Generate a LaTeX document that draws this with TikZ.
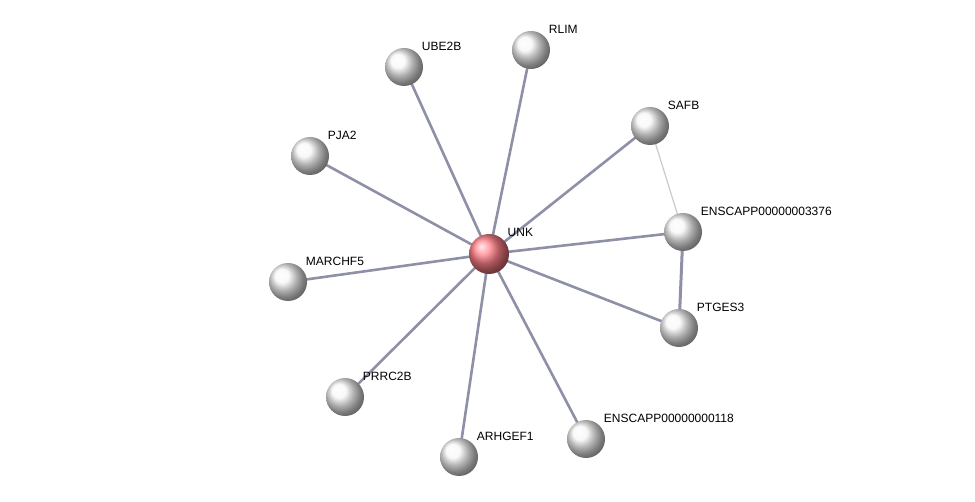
\documentclass[tikz,border=0pt]{standalone}
\usepackage{fontspec}
\setmainfont{Liberation Sans}
\usetikzlibrary{backgrounds}
\definecolor{edg}{HTML}{8D90A6}
\definecolor{weak}{HTML}{C9C9CE}
\definecolor{hub}{HTML}{FF8088}

\begin{document}
\begin{tikzpicture}[x=1pt, y=-1pt,
  prot/.style={circle, minimum size=38pt, inner sep=0pt, shading=ball, ball color=gray!6,
    label={[lab]above right:#1}},
  lab/.style={font=\fontsize{12}{14}\selectfont, inner sep=2pt, label distance=1pt, xshift=1.5pt},
  link/.style={draw=edg, line width=2.6pt},
  thin link/.style={draw=weak, line width=1.2pt}]
\useasboundingbox (0,0) rectangle (975,502);
\node[prot=UNK, minimum size=40pt, ball color=hub] (unk) at (489,254) {};
\node[prot=UBE2B] (ube) at (404,67) {};
\node[prot=RLIM] (rlim) at (531,50) {};
\node[prot=SAFB] (safb) at (650,126) {};
\node[prot=PJA2] (pja) at (310,156) {};
\node[prot=ENSCAPP00000003376] (e3376) at (683,232) {};
\node[prot=MARCHF5] (march) at (288,282) {};
\node[prot=PTGES3] (ptg) at (679,328) {};
\node[prot=PRRC2B] (prrc) at (345,397) {};
\node[prot=ARHGEF1] (arh) at (459,457) {};
\node[prot=ENSCAPP00000000118] (e118) at (586,439) {};
\begin{scope}[on background layer]
\draw[link] (unk.center) -- (ube.center); \draw[link] (unk.center) -- (rlim.center); \draw[link] (unk.center) -- (safb.center);
\draw[link] (unk.center) -- (pja.center); \draw[link] (unk.center) -- (e3376.center); \draw[link] (unk.center) -- (march.center);
\draw[link] (unk.center) -- (ptg.center); \draw[link] (unk.center) -- (prrc.center); \draw[link] (unk.center) -- (arh.center);
\draw[link] (unk.center) -- (e118.center);
\draw[link, line width=3pt] (e3376.center) -- (ptg.center);
\draw[thin link] (safb.center) -- (e3376.center);
\end{scope}
\end{tikzpicture}
\end{document}
